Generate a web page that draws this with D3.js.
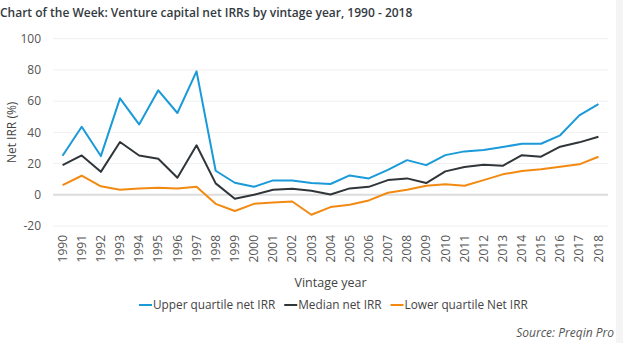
<!DOCTYPE html>
<html>
<head>
<meta charset="utf-8">
<script src="https://cdn.jsdelivr.net/npm/d3@7"></script>
<style>
  body { margin: 0; background: #fff; }
  svg { display: block; font-family: "Open Sans", sans-serif; }
</style>
</head>
<body>
<svg id="chart" width="623" height="343"></svg>
<script>
// Vintage years and net IRR (%) by quartile
const years = d3.range(1990, 2019).map(String);

const upperIRR = [25.0, 43.6, 24.8, 61.8, 45.1, 66.9, 52.4, 79.1, 15.4, 7.7,
                  5.1, 9.2, 9.2, 7.5, 6.9, 12.4, 10.5, 16.0, 22.2, 19.0,
                  25.4, 27.8, 28.7, 30.6, 32.7, 32.7, 38.1, 50.9, 58.1];
const medianIRR = [19.0, 25.2, 14.7, 33.8, 25.2, 23.1, 10.9, 31.7, 7.3, -2.5,
                   0.0, 3.2, 3.9, 2.6, 0.2, 4.1, 5.1, 9.4, 10.5, 7.5,
                   15.0, 17.8, 19.2, 18.6, 25.4, 24.4, 30.8, 33.6, 37.2];
const lowerIRR = [6.2, 12.2, 5.4, 3.2, 4.1, 4.5, 4.1, 5.1, -5.8, -10.4,
                  -5.8, -4.9, -4.3, -12.8, -7.9, -6.4, -3.6, 1.3, 3.2, 5.8,
                  6.7, 5.8, 9.4, 13.1, 15.2, 16.3, 18.0, 19.5, 24.4];

const yTicks = [-20, 0, 20, 40, 60, 80, 100];

const series = [
  { name: "Upper quartile net IRR", values: upperIRR, color: "#1a9ad8" },
  { name: "Median net IRR", values: medianIRR, color: "#2f3539" },
  { name: "Lower quartile Net IRR", values: lowerIRR, color: "#f28a12" }
];

const svg = d3.select("svg#chart");
const width = +svg.attr("width"),
      height = +svg.attr("height");

// scrollbar-ish strip down the right edge
svg.append("rect")
   .attr("x", 616).attr("y", 0)
   .attr("width", width - 616).attr("height", height)
   .style("fill", "#f4f4f4");

const x = d3.scalePoint()
    .domain(years)
    .range([53, 608])
    .padding(0.5);

const y = d3.scaleLinear()
    .domain([-20, 100])
    .range([226, 38.7]);

// Title
svg.append("text")
   .attr("x", 0)
   .attr("y", 17)
   .style("font-size", "12px")
   .style("font-weight", 600)
   .style("fill", "#333a3f")
   .text("Chart of the Week: Venture capital net IRRs by vintage year, 1990 - 2018");

// Horizontal grid
svg.append("g").attr("class", "grid")
   .selectAll("line")
   .data(yTicks)
   .enter()
   .append("line")
   .attr("x1", 53).attr("x2", 608)
   .attr("y1", d => y(d)).attr("y2", d => y(d))
   .style("stroke", d => d === 0 ? "#dcdcdc" : "#f0f0f0")
   .style("stroke-width", d => d === 0 ? 2 : 1);

// Y tick labels
svg.append("g")
   .selectAll("text")
   .data(yTicks)
   .enter()
   .append("text")
   .attr("x", 41)
   .attr("y", d => y(d))
   .attr("dy", "0.35em")
   .attr("text-anchor", "end")
   .style("font-size", "12px")
   .style("fill", "#555")
   .text(d => d);

// Y axis title
svg.append("text")
   .attr("transform", "translate(12," + y(40) + ") rotate(-90)")
   .attr("dy", "0.35em")
   .attr("text-anchor", "middle")
   .style("font-size", "12px")
   .style("fill", "#444")
   .text("Net IRR (%)");

// X tick labels, rotated
svg.append("g")
   .selectAll("text")
   .data(years)
   .enter()
   .append("text")
   .attr("transform", d => "translate(" + x(d) + ",235) rotate(-90)")
   .attr("dy", "0.35em")
   .attr("text-anchor", "end")
   .style("font-size", "12px")
   .style("fill", "#555")
   .text(d => d);

// X axis title
svg.append("text")
   .attr("x", (53 + 608) / 2)
   .attr("y", 283)
   .attr("dy", "0.35em")
   .attr("text-anchor", "middle")
   .style("font-size", "12.5px")
   .style("fill", "#444")
   .text("Vintage year");

// Lines
const line = d3.line()
    .x((d, i) => x(years[i]))
    .y(d => y(d));

svg.append("g").attr("class", "lines")
   .selectAll("path")
   .data(series)
   .enter()
   .append("path")
   .attr("d", d => line(d.values))
   .style("fill", "none")
   .style("stroke", d => d.color)
   .style("stroke-width", 2)
   .style("stroke-linejoin", "round");

// Legend: swatch + label, laid out left to right
const legend = svg.append("g").attr("class", "legend");
let lx = 0;
series.forEach(function(s, i) {
  const g = legend.append("g").attr("transform", "translate(" + lx + ",0)");
  g.append("line")
   .attr("x1", 0).attr("x2", 13)
   .attr("y1", 0).attr("y2", 0)
   .style("stroke", s.color)
   .style("stroke-width", 2);
  const t = g.append("text")
   .attr("x", 14)
   .attr("dy", "0.35em")
   .style("font-size", "11.8px")
   .style("fill", "#444")
   .text(s.name);
  lx += 14 + t.node().getComputedTextLength() + 9;
});
legend.attr("transform", "translate(139,305)");

// Source note
svg.append("text")
   .attr("x", 614)
   .attr("y", 333)
   .attr("dy", "0.35em")
   .attr("text-anchor", "end")
   .style("font-size", "12px")
   .style("font-style", "italic")
   .style("fill", "#555")
   .text("Source: Preqin Pro");
</script>
</body>
</html>
